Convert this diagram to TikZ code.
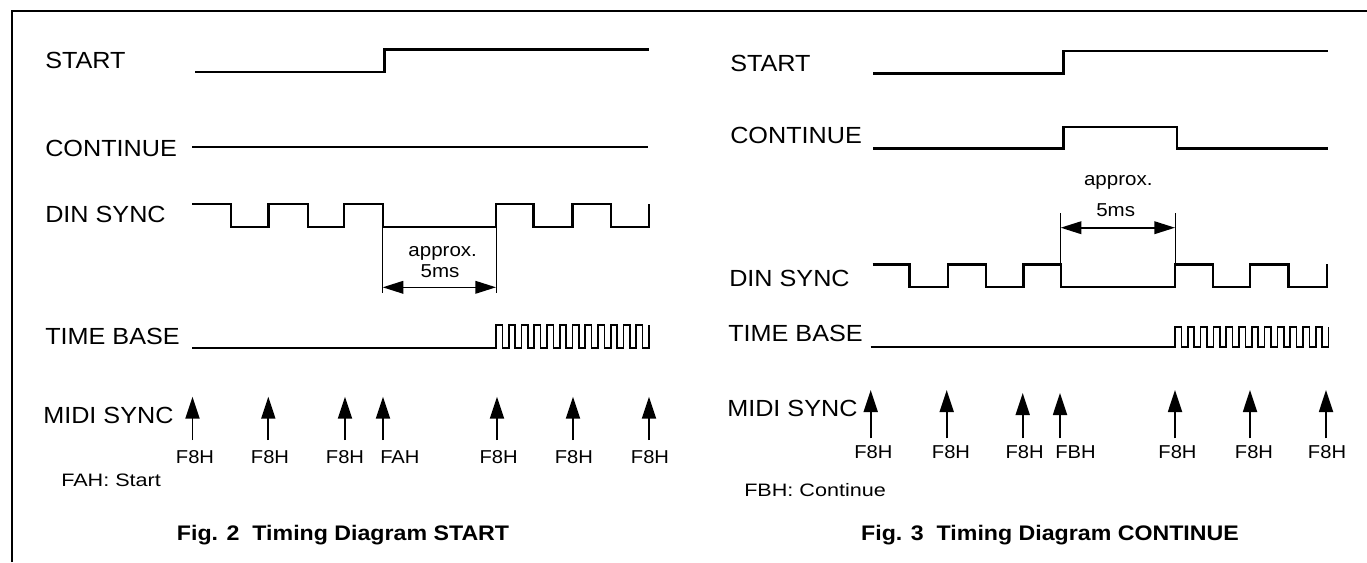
\documentclass[tikz,border=0pt]{standalone}
\usepackage{fontspec}
\setmainfont{Liberation Sans}
\usepackage{graphicx}
\usetikzlibrary{arrows.meta}
\newcommand{\hs}[2]{\scalebox{#1}[1]{#2}}
\begin{document}
\begin{tikzpicture}[x=0.75pt,y=-0.75pt,
  sig/.style={line width=1.8pt, line join=miter},
  fastsig/.style={line width=1.3pt, line join=miter},
  ext/.style={line width=0.7pt},
  dim/.style={line width=1.2pt, {Triangle[length=15.5pt,width=9.5pt]}-{Triangle[length=15.5pt,width=9.5pt]}},
  midi/.style={line width=1.4pt, -{Triangle[length=16.5pt,width=10.5pt]}},
  lbl/.style={inner sep=0pt, anchor=base west, font=\fontsize{17.5}{20}\selectfont},
  hex/.style={inner sep=0pt, anchor=base, font=\fontsize{14}{16}\selectfont},
  hexw/.style={hex, anchor=base west},
  notetxt/.style={inner sep=0pt, anchor=base west, font=\fontsize{13.5}{16}\selectfont},
  smalltxt/.style={inner sep=0pt, anchor=base, font=\fontsize{14}{16}\selectfont},
  figcap/.style={inner sep=0pt, anchor=base, font=\bfseries\fontsize{15.8}{18}\selectfont},
  borderline/.style={line width=1.8pt}]
\useasboundingbox (0,0) rectangle (1367,562);
\fill[white] (0,0) rectangle (1367,562);

% frame
\coordinate (fb) at (12,562);
\coordinate (ftl) at (12,11);
\coordinate (ftr) at (1367,11);
\draw[borderline] (fb) -- (ftl) -- (ftr);

% ================= LEFT: Fig. 2 =================
\node[lbl] (lStart) at (45,68) {\hs{1.08}{START}};
\node[lbl] (lCont) at (45,156.7) {\hs{1.08}{CONTINUE}};
\node[lbl] (lDin) at (45,222.7) {\hs{1.08}{DIN SYNC}};
\node[lbl] (lTime) at (45,344) {\hs{1.08}{TIME BASE}};
\node[lbl] (lMidi) at (43,423.3) {\hs{1.08}{MIDI SYNC}};

\draw[sig] (195,71.7) -- (384.3,71.7) -- (384.3,49.3) -- (649.3,49.3);
\draw[sig] (192.3,147) -- (648.3,147);
\draw[sig] (192.3,204) -- (230.7,204) -- (230.7,226.7) -- (268.3,226.7) -- (268.3,204)
  -- (307.7,204) -- (307.7,226.7) -- (344,226.7) -- (344,204) -- (382.7,204)
  -- (382.7,226.7) -- (496,226.7) -- (496,204) -- (533.3,204) -- (533.3,226.7)
  -- (572.3,226.7) -- (572.3,204) -- (610.7,204) -- (610.7,226.7) -- (649,226.7) -- (649,204);

% dimension left
\coordinate (dLa) at (382.7,226.7);
\coordinate (dLb) at (496,226.7);
\coordinate (dLae) at (382.7,293);
\coordinate (dLbe) at (496,293);
\draw[ext] (dLa) -- (dLae);
\draw[ext] (dLb) -- (dLbe);
\coordinate (dLl) at (382.7,287.3);
\coordinate (dLr) at (496,287.3);
\draw[dim] (dLl) -- (dLr);
\node[smalltxt] (lApprox) at (442.7,256.7) {\hs{1.1}{approx.}};
\node[smalltxt] (l5ms) at (440,277) {\hs{1.1}{5ms}};

% time base left
\draw[fastsig] (192.3,348) -- (496,348)
  \foreach \i in {1,...,12} { -- ++(0,-23) -- ++(6.375,0) -- ++(0,23) -- ++(6.375,0) }
  -- ++(0,-23);

% midi arrows left
\foreach \x/\n in {192.5/1,268.3/2,345/3,383/4,497/5,573/6,649/7} {
  \coordinate (mL\n b) at (\x,440);
  \coordinate (mL\n t) at (\x,396.7);
  \draw[midi] (mL\n b) -- (mL\n t);
}
\node[hex] (lh1) at (195,463) {\hs{1.08}{F8H}};
\node[hex] (lh2) at (270,463) {\hs{1.08}{F8H}};
\node[hex] (lh3) at (345,463) {\hs{1.08}{F8H}};
\node[hexw] (lh4) at (380,463) {\hs{1.08}{FAH}};
\node[hex] (lh5) at (498.7,463) {\hs{1.08}{F8H}};
\node[hex] (lh6) at (573.8,463) {\hs{1.08}{F8H}};
\node[hex] (lh7) at (650,463) {\hs{1.08}{F8H}};
\node[notetxt] (lNote) at (61,486) {\hs{1.2}{FAH: Start}};
\node[figcap] (lCap) at (343,540) {\hs{1.1}{Fig. 2\ \ Timing Diagram START}};

% ================= RIGHT: Fig. 3 =================
\node[lbl] (rStart) at (730,71.7) {\hs{1.08}{START}};
\node[lbl] (rCont) at (730,143.3) {\hs{1.08}{CONTINUE}};
\node[lbl] (rDin) at (729,286.7) {\hs{1.08}{DIN SYNC}};
\node[lbl] (rTime) at (728,341) {\hs{1.08}{TIME BASE}};
\node[lbl] (rMidi) at (727,416) {\hs{1.08}{MIDI SYNC}};

\draw[sig] (873.3,73.3) -- (1063.3,73.3) -- (1063.3,51) -- (1328.3,51);
\draw[sig] (873.3,148.3) -- (1063.3,148.3) -- (1063.3,127) -- (1176.7,127) -- (1176.7,148.3) -- (1328.3,148.3);
\draw[sig] (872.7,264.3) -- (909.3,264.3) -- (909.3,286.7) -- (947.7,286.7) -- (947.7,264.3)
  -- (986,264.3) -- (986,286.7) -- (1023.3,286.7) -- (1023.3,264.3) -- (1060.7,264.3)
  -- (1060.7,286.7) -- (1175,286.7) -- (1175,264.3) -- (1212.7,264.3) -- (1212.7,286.7)
  -- (1250,286.7) -- (1250,264.3) -- (1288.3,264.3) -- (1288.3,286.7) -- (1326.7,286.7) -- (1326.7,264.3);

% dimension right
\coordinate (dRa) at (1060.7,264.3);
\coordinate (dRb) at (1175,264.3);
\coordinate (dRae) at (1060.7,213.3);
\coordinate (dRbe) at (1175,213.3);
\draw[ext] (dRa) -- (dRae);
\draw[ext] (dRb) -- (dRbe);
\coordinate (dRl) at (1060.7,227.7);
\coordinate (dRr) at (1175,227.7);
\draw[dim] (dRl) -- (dRr);
\node[smalltxt] (rApprox) at (1118.3,185.7) {\hs{1.1}{approx.}};
\node[smalltxt] (r5ms) at (1115.7,216) {\hs{1.1}{5ms}};

% time base right
\draw[fastsig] (870.7,347.3) -- (1175,347.3)
  \foreach \i in {1,...,12} { -- ++(0,-20.6) -- ++(6.4,0) -- ++(0,20.6) -- ++(6.4,0) }
  -- ++(0,-20.6);

% midi arrows right
\foreach \x/\t/\n in {870.7/390/1,946.7/390/2,1022.7/393/3,1060/393/4,1175/390/5,1250/390/6,1326/390/7} {
  \coordinate (mR\n b) at (\x,438.3);
  \coordinate (mR\n t) at (\x,\t);
  \draw[midi] (mR\n b) -- (mR\n t);
}
\node[hex] (rh1) at (873.3,458.3) {\hs{1.08}{F8H}};
\node[hex] (rh2) at (951,458.3) {\hs{1.08}{F8H}};
\node[hex] (rh3) at (1024.7,458.3) {\hs{1.08}{F8H}};
\node[hexw] (rh4) at (1055,458.3) {\hs{1.08}{FBH}};
\node[hex] (rh5) at (1177.5,458.3) {\hs{1.08}{F8H}};
\node[hex] (rh6) at (1254,458.3) {\hs{1.08}{F8H}};
\node[hex] (rh7) at (1327,458.3) {\hs{1.08}{F8H}};
\node[notetxt] (rNote) at (744,496) {\hs{1.2}{FBH: Continue}};
\node[figcap] (rCap) at (1050,540) {\hs{1.1}{Fig. 3\ \ Timing Diagram CONTINUE}};
\end{tikzpicture}
\end{document}
